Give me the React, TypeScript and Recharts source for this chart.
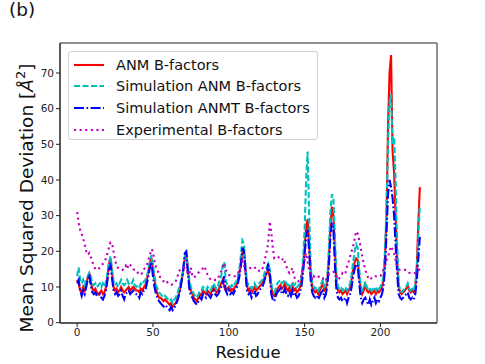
import React from 'react';
import {
    LineChart,
    Line,
    XAxis,
    YAxis,
    Legend,
    Label,
    ReferenceArea,
} from 'recharts';

// residues 0..226
const anm: number[] = [
    12, 11, 9, 8.5, 10, 9, 11, 12.5, 14, 11.5,
    9.5, 9, 9.5, 8.5, 8, 8.5, 9, 8, 8.5, 10,
    13, 16.5, 18, 14, 10, 9, 9.5, 8.5, 9, 10,
    9, 8.5, 9, 9.5, 10, 9, 9.5, 10, 9.5, 9,
    9, 8.5, 9.5, 9, 10, 10.5, 12, 14.5, 17, 18,
    15, 12, 9.5, 8, 7, 7, 6.5, 6, 6.5, 6,
    5.5, 5, 5.5, 4.5, 5, 5.5, 6.5, 8, 10, 12,
    14.5, 18, 19.5, 15, 11, 9, 8, 7, 6.5, 6,
    7, 8, 7.5, 9, 8.5, 8, 9, 8.5, 8, 9,
    10, 9, 8.5, 9, 10, 11, 12, 10, 9, 9.5,
    10, 9, 9.5, 9, 10, 10.5, 12, 14, 17, 20,
    20.5, 15, 10.5, 9, 9.5, 8.5, 9, 10, 9, 9.5,
    10, 10.5, 11, 12, 13, 14, 14.5, 13, 10, 8,
    7.5, 8.5, 9.5, 10, 10.5, 9.5, 10, 11, 9.5, 9,
    10, 9, 10.5, 9, 9.5, 8.5, 9, 10, 12, 16,
    21, 27, 29, 22, 14, 10, 9, 8.5, 9, 8,
    9, 10, 11, 9, 9.5, 12, 18, 27, 32.5, 30,
    20, 11, 9, 8.5, 9, 8, 8.5, 9, 8, 9,
    10, 12, 15, 17, 18, 17.5, 13, 9.5, 8, 9,
    11, 9, 8.5, 9, 8, 8.5, 9, 8, 9, 8.5,
    9, 10, 12, 18, 30, 55, 70, 75, 48, 42,
    30, 18, 10, 8.5, 8, 8.5, 9, 9.5, 10.5, 9,
    8.5, 9, 8.5, 10, 16, 28, 38,
];

const simAnm: number[] = [
    13, 15.5, 12, 11, 12, 10.5, 12, 13, 14, 13,
    11, 10.5, 11, 10, 10.5, 11, 10, 11, 10, 11.5,
    14, 17, 18.5, 15, 11.5, 10.5, 11, 10, 11, 12,
    11, 10.5, 11, 12, 11, 10.5, 11, 12, 10.5, 10,
    10.5, 10, 11, 10.5, 11.5, 12, 13, 15, 17, 19,
    16, 13, 10.5, 9.5, 8.5, 8, 7.5, 7, 7.5, 7,
    6.5, 6, 6.5, 5.5, 6.5, 7, 8, 9.5, 11, 13,
    15, 18.5, 19, 16, 12, 10, 9, 8, 7.5, 7,
    8, 9, 9, 10, 9.5, 9, 10, 9.5, 9, 10,
    11, 10, 9.5, 10.5, 12, 13, 16, 17, 12, 10.5,
    10.5, 10, 10.5, 10, 11, 11.5, 13, 15, 19, 23,
    22, 16, 11.5, 10.5, 10.5, 9.5, 10, 11, 10, 10.5,
    11, 11.5, 12, 13, 14.5, 15.5, 16.5, 15, 11, 9,
    8.5, 9.5, 11, 11.5, 12, 11, 11.5, 12, 11, 10.5,
    11, 10, 11.5, 10.5, 11, 10, 10.5, 11, 13, 18,
    26, 40, 48, 30, 16, 11, 10, 9.5, 10, 9,
    10, 11, 12, 10, 10.5, 13, 21, 31, 36, 35,
    24, 13, 10, 9.5, 10, 9, 9.5, 10, 9, 10,
    11, 13.5, 17, 20, 22, 21, 15, 10.5, 9, 9.5,
    11.5, 10, 9, 9.5, 9, 9.5, 10, 9, 10, 9.5,
    10, 11, 13, 20, 32, 50, 62, 64, 50, 52,
    40, 22, 11, 9, 8.5, 9, 9.5, 10, 11, 9.5,
    9, 9.5, 9, 11, 15, 24, 33,
];

const simAnmt: number[] = [
    11, 12, 9, 7.5, 9, 8, 10, 12, 13.5, 10.5,
    8.5, 8, 8.5, 7.5, 7.5, 8, 7, 6.5, 7.5, 9,
    12, 15, 16, 12.5, 9, 8, 8.5, 7.5, 8, 9,
    7.5, 6.5, 8, 8.5, 9, 8, 8.5, 9, 8.5, 8,
    8, 7, 8.5, 8, 9, 9, 11, 13, 15.5, 17,
    13, 10, 8, 7, 6, 5.5, 5, 4.5, 5, 4.5,
    4, 3.5, 4.5, 3.5, 4, 5, 6, 7.5, 9, 12,
    15, 19.5, 20, 14, 9.5, 7.5, 7, 6, 5.5, 5,
    6, 7, 6.5, 8, 7.5, 7, 8, 7.5, 7, 8,
    9, 8, 7.5, 8, 9, 10, 11, 13, 9, 8,
    9, 8, 8.5, 8, 9, 9.5, 11, 13, 16, 21,
    20, 14, 9, 8, 8.5, 7, 8, 9, 7.5, 8,
    9, 9.5, 10, 11, 12.5, 14, 16.5, 14, 8, 6.5,
    6, 7.5, 8.5, 9, 9.5, 8, 8.5, 9.5, 8, 7.5,
    8.5, 7.5, 9, 7.5, 8, 7, 7.5, 8.5, 10.5, 14,
    19, 24, 26, 20, 12, 8.5, 7.5, 7, 7.5, 6.5,
    7.5, 8.5, 9, 7, 8, 10.5, 16, 24, 28, 26,
    16, 9, 7, 6.5, 7, 6, 6.5, 7, 5.5, 7,
    8, 10, 13, 15, 16.5, 16, 11, 7, 5.5, 6.5,
    7, 6, 5, 6.5, 5, 6, 7, 5.5, 6.5, 6,
    7, 8, 10, 15, 25, 36, 40, 38, 35, 30,
    22, 14, 8, 7, 6.5, 7, 7.5, 8, 8.5, 7,
    6.5, 7, 6.5, 8, 12, 18, 24,
];

const experimental: number[] = [
    31, 28, 26, 25, 23.5, 22, 20, 19, 19.5, 18.5,
    17, 16, 15, 14.8, 15, 15.5, 16, 16.5, 17, 18,
    19.5, 21, 22.5, 22.3, 20, 17.5, 16, 15.3, 15, 14.8,
    14.8, 15.5, 16, 15, 16.5, 16.2, 15.5, 15, 14.8, 14.8,
    14, 13.5, 13.4, 14, 15, 15.3, 16, 17.6, 19, 20.6,
    20, 17.2, 15.5, 14.8, 13.5, 12.5, 12, 11.6, 11.2, 11.6,
    11, 10.8, 10.6, 10.8, 11, 11.6, 12.5, 14.4, 14.8, 15,
    15.5, 15.3, 14.5, 13.9, 13.5, 15.4, 13, 12.6, 13, 13.4,
    14, 14.5, 14.8, 15.3, 15.8, 14.5, 13.4, 12.8, 12, 12,
    12, 12, 12, 12.5, 13.5, 14.4, 15.5, 16.7, 14.8, 14,
    13.4, 13.2, 13, 13, 13, 13.5, 14, 14.4, 15.5, 17.2,
    16, 14.4, 14.8, 15, 15.3, 15.3, 15, 15.3, 15.5, 15,
    14.5, 14.4, 15, 16, 18.1, 20, 22.3, 28.4, 25.6, 21,
    18.1, 18.3, 18.6, 18.3, 18.1, 17.5, 18.1, 17, 15.8, 14.5,
    13.9, 14.5, 15.3, 13, 12, 11.8, 11.6, 12, 13.4, 15.8,
    17.5, 19.5, 17, 14.8, 13.9, 12, 13, 12.5, 12.5, 12.8,
    13, 13, 12.5, 11.6, 12, 12.5, 13.5, 13.9, 14, 14.2,
    14, 13, 12, 12.5, 13, 13.9, 13.5, 14, 15.8, 17,
    18.5, 20, 21.4, 23.5, 25.6, 25, 23.2, 21, 18.6, 16.5,
    14.8, 13.5, 12.5, 12, 12.5, 13, 13, 13, 13, 13,
    13, 14, 14.8, 16, 17.5, 18.6, 20, 21.4, 20.5, 19.5,
    17.5, 15.8, 15, 14.8, 14.8, 14.8, 14.8, 14.8, 14.5, 14,
    13.9, 13.9, 13.9, 13.9, 15, 15.8, 14,
];

const xTicks = [0, 50, 100, 150, 200];
const yTicks = [0, 10, 20, 30, 40, 50, 60, 70];

const seriesInfo = [
    { key: 'anm', name: 'ANM B-factors', color: '#ff0000', dash: undefined },
    { key: 'simAnm', name: 'Simulation ANM B-factors', color: '#00bfbf', dash: '6 2.5' },
    { key: 'simAnmt', name: 'Simulation ANMT B-factors', color: '#0000ff', dash: '10 2.5 1.6 2.5' },
    { key: 'experimental', name: 'Experimental B-factors', color: '#bf00bf', dash: '2.1 3.5' },
];

const data = anm.map((v, i) => ({
    residue: i,
    anm: v,
    simAnm: simAnm[i],
    simAnmt: simAnmt[i],
    experimental: experimental[i],
}));

const FONT = '"DejaVu Sans", sans-serif';
const X_DOMAIN: [number, number] = [-11.3, 237.3];
const Y_DOMAIN: [number, number] = [-0.1, 78.4];

const LegendBox = () => (
    <div
        style={{
            position: 'relative',
            width: 250,
            height: 89,
            boxSizing: 'border-box',
            border: '1px solid #d0d0d0',
            borderRadius: 3,
            background: 'rgba(255,255,255,0.8)',
            fontFamily: FONT,
            fontSize: 14.5,
            color: '#111',
        }}
    >
        {seriesInfo.map((s, i) => (
            <div
                key={s.key}
                style={{ position: 'absolute', left: 4, top: 2 + i * 21.7, height: 21, display: 'flex', alignItems: 'center', whiteSpace: 'nowrap' }}
            >
                <svg width={32} height={10} style={{ marginRight: 11 }}>
                    <line x1={1} y1={5} x2={31} y2={5} stroke={s.color} strokeWidth={2.1} strokeDasharray={s.dash} />
                </svg>
                <span>{s.name}</span>
            </div>
        ))}
    </div>
);

export default function App() {
    return (
        <div style={{ position: 'absolute', left: 0, top: 0, width: 485, height: 364, background: '#fff' }}>
            <div style={{ position: 'absolute', left: 9, top: -1, fontFamily: FONT, fontSize: 18.5, color: '#111' }}>(b)</div>
            <LineChart
                width={485}
                height={364}
                data={data}
                margin={{ top: 43, right: 48, left: 0, bottom: 0 }}
            >
                <XAxis
                    dataKey="residue"
                    type="number"
                    domain={X_DOMAIN}
                    ticks={xTicks}
                    allowDataOverflow
                    height={41}
                    tickSize={4}
                    tickMargin={2}
                    stroke="#222"
                    tick={{ fill: '#222', fontSize: 10.5, fontFamily: FONT }}
                >
                    <Label
                        content={() => (
                            <text x={248} y={358} textAnchor="middle" fontFamily={FONT} fontSize={16.5} fill="#111">
                                Residue
                            </text>
                        )}
                    />
                </XAxis>
                <YAxis
                    type="number"
                    domain={Y_DOMAIN}
                    ticks={yTicks}
                    allowDataOverflow
                    width={60}
                    tickSize={4}
                    tickMargin={2}
                    stroke="#222"
                    tick={{ fill: '#222', fontSize: 10.5, fontFamily: FONT }}
                >
                    <Label
                        content={() => (
                            <text
                                x={33}
                                y={198}
                                textAnchor="middle"
                                transform="rotate(-90 33 198)"
                                fontFamily={FONT}
                                fontSize={18.5}
                                fill="#111"
                            >
                                Mean Squared Deviation [<tspan fontStyle="italic">Å</tspan>
                                <tspan dy={-8} fontSize={13}>2</tspan>
                                <tspan dy={8}>]</tspan>
                            </text>
                        )}
                    />
                </YAxis>
                <ReferenceArea
                    x1={X_DOMAIN[0]}
                    x2={X_DOMAIN[1]}
                    y1={Y_DOMAIN[0]}
                    y2={Y_DOMAIN[1]}
                    fill="none"
                    stroke="#222"
                    strokeWidth={1}
                />
                {seriesInfo.map((s) => (
                    <Line
                        key={s.key}
                        type="linear"
                        dataKey={s.key}
                        name={s.name}
                        stroke={s.color}
                        strokeWidth={2.1}
                        strokeDasharray={s.dash}
                        dot={false}
                        activeDot={false}
                        isAnimationActive={false}
                    />
                ))}
                <Legend
                    layout="vertical"
                    align="center"
                    verticalAlign="middle"
                    wrapperStyle={{ position: 'absolute', left: 68, top: 51, width: 250, height: 89 }}
                    content={() => <LegendBox />}
                />
            </LineChart>
        </div>
    );
}
